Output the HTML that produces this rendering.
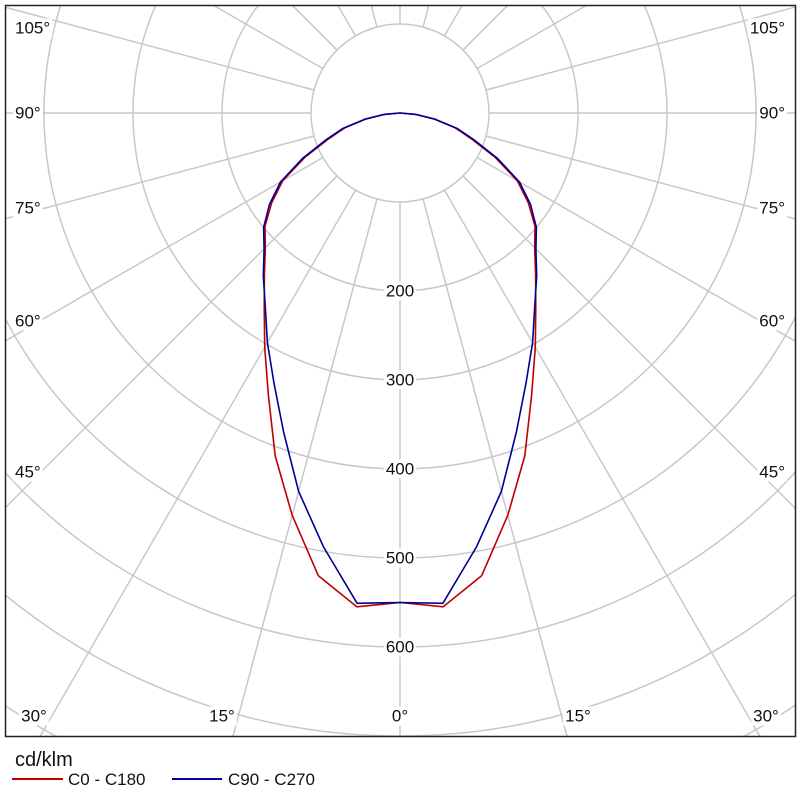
<!DOCTYPE html>
<html><head><meta charset="utf-8"><style>
html,body{margin:0;padding:0;background:#fff;overflow:hidden;width:800px;height:800px;}
svg{display:block;font-family:"Liberation Sans",sans-serif;}
</style></head><body>
<svg id="chart" width="800" height="800" viewBox="0 0 800 800">
<defs><clipPath id="plotclip"><rect x="6" y="6" width="789" height="730"/></clipPath></defs>
<rect x="0" y="0" width="800" height="800" fill="#fff"/>
<g id="grid" clip-path="url(#plotclip)"></g>
<g id="series" clip-path="url(#plotclip)"></g>
<g id="labels"></g>
<rect x="5.5" y="5.5" width="790" height="731" fill="none" stroke="#222" stroke-width="1.5"/>
<text x="15" y="766" font-size="20" fill="#111">cd/klm</text>
<line x1="12" y1="779" x2="63" y2="779" stroke="#c00000" stroke-width="2"/>
<text x="68" y="785" font-size="17" fill="#111">C0 - C180</text>
<line x1="172" y1="779" x2="222" y2="779" stroke="#00009a" stroke-width="2"/>
<text x="228" y="785" font-size="17" fill="#111">C90 - C270</text>
</svg>
<script>
const angles = [0,5,10,15,20,25,30,35,40,45,50,55,60,65,70,75,80,85,90];
const c0c180 = [550,557,528,468,410,350,304,266,237,214,198,176,152,118,86,64,39,17,0];
const c90c270 = [550,553,495,440,382,335,298,264,239,216,200,179,155,121,89,66,40,18,0];
const radialTicks = [200,300,400,500,600];
const gridCircles = [100,200,300,400,500,600,700,800,900,1000];
const angleLabelsLeft = ["105°","90°","75°","60°","45°"];
const angleLabelValues = [105,90,75,60,45];
const bottomLabels = ["30°","15°","0°","15°","30°"];

const NS="http://www.w3.org/2000/svg";
const cx=400, cy=113, k=0.89;
function rad(v){return v*k;}
function pt(theta,v,side){const a=theta*Math.PI/180;const r=rad(v);return [cx+side*r*Math.sin(a), cy+r*Math.cos(a)];}
function mk(tag,attrs,parent){const e=document.createElementNS(NS,tag);for(const a in attrs)e.setAttribute(a,attrs[a]);parent.appendChild(e);return e;}

const grid=document.getElementById('grid');
gridCircles.forEach(v=>{
  const c=mk('circle',{cx:cx,cy:cy,r:rad(v),fill:'none',stroke:'#c8c8c8','stroke-width':1.5},grid);
  
  
});
for(let t=0;t<360;t+=15){
  const a=t*Math.PI/180;
  const x1=cx+rad(100)*Math.sin(a), y1=cy+rad(100)*Math.cos(a);
  const x2=cx+1200*Math.sin(a), y2=cy+1200*Math.cos(a);
  const l=mk('line',{x1:x1,y1:y1,x2:x2,y2:y2,stroke:'#c8c8c8','stroke-width':1.5},grid);
  
  
}

const series=document.getElementById('series');
function drawSeries(vals,color,name){
  const pts=[];
  for(let i=angles.length-1;i>=0;i--)pts.push(pt(angles[i],vals[i],-1));
  for(let i=1;i<angles.length;i++)pts.push(pt(angles[i],vals[i],1));
  const p=mk('polyline',{points:pts.map(q=>q[0].toFixed(1)+','+q[1].toFixed(1)).join(' '),fill:'none',stroke:color,'stroke-width':1.6,'stroke-linejoin':'round'},series);
  
  
}
drawSeries(c0c180,'#c00000','series-c0-c180');
drawSeries(c90c270,'#00009a','series-c90-c270');

const labels=document.getElementById('labels');
function label(x,y,txt,anchor,name){
  const t=mk('text',{x:x,y:y,'font-size':17,fill:'#111','text-anchor':anchor,'dominant-baseline':'central'},labels);
  t.textContent=txt;
  const bb=t.getBBox();
  const r=document.createElementNS(NS,'rect');
  r.setAttribute('x',bb.x-2);r.setAttribute('y',bb.y);r.setAttribute('width',bb.width+4);r.setAttribute('height',bb.height);r.setAttribute('fill','#fff');
  
  
  labels.insertBefore(r,t);
  
  
}
radialTicks.forEach(v=>label(cx,cy+rad(v),String(v),'middle','value-label-'+v));
const sideLabelY=[28,113,208,321,472];
angleLabelValues.forEach((a,i)=>{
  label(15,sideLabelY[i],angleLabelsLeft[i],'start','angle-label-left-'+a);
  label(785,sideLabelY[i],angleLabelsLeft[i],'end','angle-label-right-'+a);
});
const bx=[34,222,400,578,766];
bottomLabels.forEach((s,i)=>label(bx[i],716,s,'middle','angle-label-bottom-'+i));
</script>
</body></html>
